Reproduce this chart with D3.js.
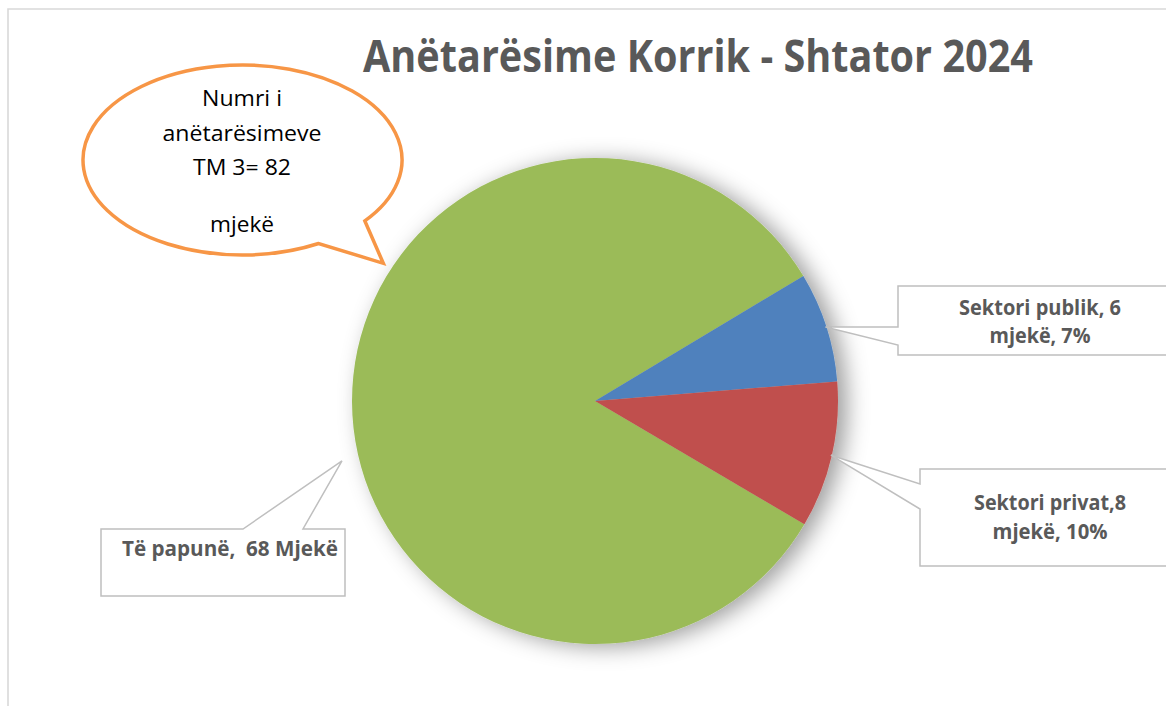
<!DOCTYPE html>
<html>
<head>
<meta charset="utf-8">
<script src="https://cdn.jsdelivr.net/npm/d3@7"></script>
<style>
  html, body { margin: 0; padding: 0; background: #fff; }
  svg { display: block; }
  text { white-space: pre; }
</style>
</head>
<body>
<div id="chart"></div>
<script>
// ---- data ----
const title = "Anëtarësime Korrik - Shtator 2024";
const categories = ["Të papunë", "Sektori publik", "Sektori privat"];
const values = [68, 6, 8];
const labelLines = [
  ["Të papunë,  68 Mjekë"],
  ["Sektori publik, 6", "mjekë, 7%"],
  ["Sektori privat,8", "mjekë, 10%"]
];
const bubbleLines = ["Numri i", "anëtarësimeve", "TM 3= 82", "", "mjekë"];

// ---- layout ----
const W = 1166, H = 706;
const cx = 595, cy = 401, R = 243;
const startDeg = 120.5;

const svg = d3.select("#chart").append("svg")
  .attr("width", W).attr("height", H)
  .style("font-family", "'Open Sans', sans-serif");

svg.append("rect").attr("width", W).attr("height", H).attr("fill", "#fff");

// frame
svg.append("path")
  .attr("d", `M8,${H} V9 H${W}`)
  .attr("fill", "none").attr("stroke", "#d9d9d9").attr("stroke-width", 1.6);

const defs = svg.append("defs");
const f = defs.append("filter").attr("id", "shadow")
  .attr("x", "-30%").attr("y", "-30%").attr("width", "160%").attr("height", "160%");
f.append("feDropShadow")
  .attr("dx", 9).attr("dy", 3).attr("stdDeviation", 11)
  .attr("flood-color", "#000").attr("flood-opacity", 0.38);

// title
svg.append("text")
  .attr("x", 363).attr("y", 72)
  .attr("textLength", 670).attr("lengthAdjust", "spacingAndGlyphs")
  .attr("font-size", 45).attr("font-weight", 700)
  .attr("fill", "#595959")
  .text(title);

// pie
const color = d3.scaleOrdinal().domain(categories).range(["#9BBB59", "#4F81BD", "#C0504D"]);
const pie = d3.pie().sort(null).value(d => d.v)
  .startAngle(startDeg * Math.PI / 180)
  .endAngle(startDeg * Math.PI / 180 + 2 * Math.PI);
const data = categories.map((c, i) => ({ c, v: values[i], lines: labelLines[i] }));
const arcs = pie(data);
const arc = d3.arc().innerRadius(0).outerRadius(R);

const g = svg.append("g").attr("transform", `translate(${cx},${cy})`).attr("filter", "url(#shadow)");
g.selectAll("path").data(arcs).join("path")
  .attr("d", arc)
  .attr("fill", d => color(d.data.c));

// callout label layout (box + pointer)
const polar = (a, r) => [cx + r * Math.sin(a), cy - r * Math.cos(a)];
const mid = d => (d.startAngle + d.endAngle) / 2;

const layout = [
  { box: [101, 529, 244, 67], side: "top", base: [243, 303], tip: polar(256.7 * Math.PI / 180, 260), tx: 230, ty: [556] },
  { box: [898, 286, 284, 69], side: "left", base: [327, 345], tipR: 242, tx: 1040, ty: [315, 343] },
  { box: [920, 469, 260, 97], side: "left", base: [484, 509], tipR: 242, tx: 1050, ty: [510, 539] }
];

arcs.forEach((d, i) => {
  const L = layout[i];
  const [x, y, w, h] = L.box;
  const tip = L.tip || polar(mid(d), L.tipR);
  let p;
  if (L.side === "left") {
    p = `M${x},${y} H${x + w} V${y + h} H${x} V${L.base[1]} L${tip[0]},${tip[1]} L${x},${L.base[0]} Z`;
  } else {
    p = `M${x},${y} H${L.base[0]} L${tip[0]},${tip[1]} L${L.base[1]},${y} H${x + w} V${y + h} H${x} Z`;
  }
  svg.append("path").attr("d", p)
    .attr("fill", "#fff").attr("stroke", "#BFBFBF").attr("stroke-width", 1.5);
  const widths = i === 0 ? [216] : i === 1 ? [162, 101] : [152, 115];
  d.data.lines.forEach((t, j) => {
    svg.append("text")
      .attr("x", L.tx).attr("y", L.ty[j])
      .attr("text-anchor", "middle")
      .attr("textLength", widths[j]).attr("lengthAdjust", "spacingAndGlyphs")
      .attr("font-size", 22).attr("font-weight", 700)
      .attr("fill", "#595959")
      .text(t);
  });
});

// speech bubble
const ex = 242.5, ey = 160, erx = 159.5, ery = 95;
const ept = deg => [ex + erx * Math.cos(deg * Math.PI / 180), ey + ery * Math.sin(deg * Math.PI / 180)];
const A = ept(61.5), B = ept(39.9), T = [383.3, 263.3];
svg.append("path")
  .attr("d", `M${B[0]},${B[1]} L${T[0]},${T[1]} L${A[0]},${A[1]} A${erx} ${ery} 0 1 1 ${B[0]},${B[1]} Z`)
  .attr("fill", "#fff").attr("stroke", "#F79646").attr("stroke-width", 3.5)
  .attr("stroke-linejoin", "miter");

const bubbleY = [106, 141, 175, 203, 232];
const bubbleW = [80, 159, 98, 0, 64];
bubbleLines.forEach((t, j) => {
  if (!t) return;
  svg.append("text")
    .attr("x", 242).attr("y", bubbleY[j])
    .attr("text-anchor", "middle")
    .attr("textLength", bubbleW[j]).attr("lengthAdjust", "spacingAndGlyphs")
    .attr("font-size", 22)
    .attr("fill", "#000")
    .text(t);
});
</script>
</body>
</html>
